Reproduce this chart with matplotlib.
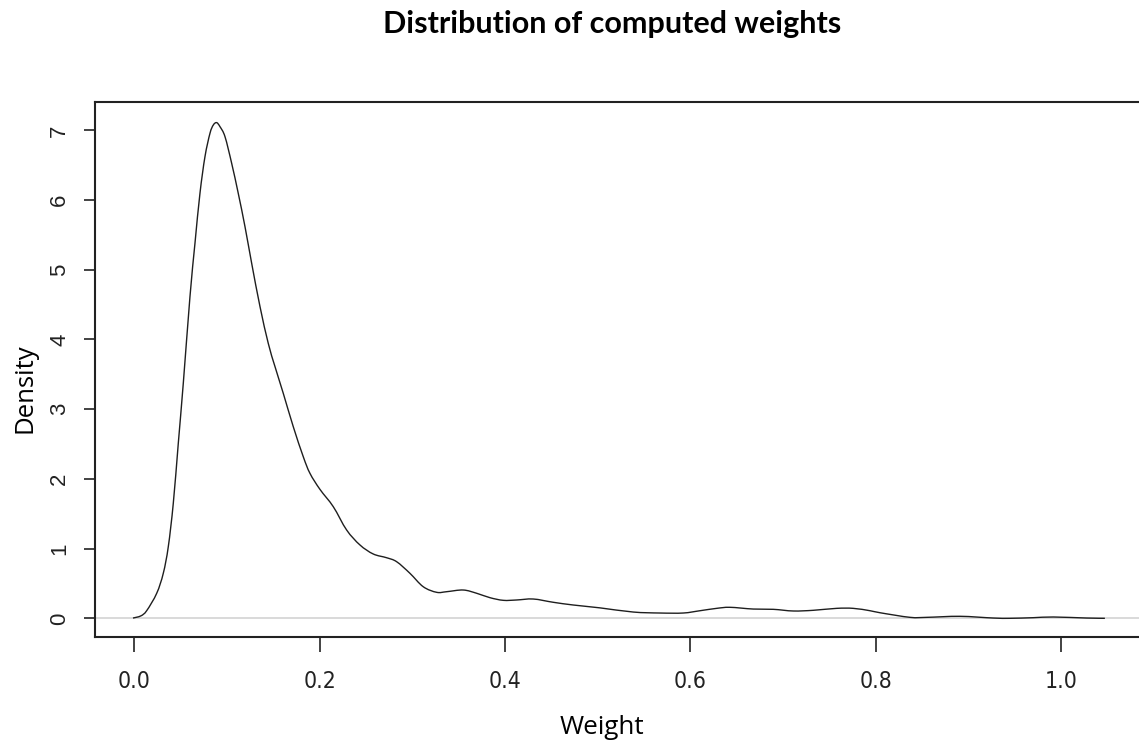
import matplotlib
matplotlib.use("Agg")
import matplotlib.pyplot as plt
import numpy as np
from matplotlib.path import Path
from matplotlib.patches import PathPatch

# Kernel density estimate of the computed weights (x = weight, y = density)
weight = [-0.0015, 0.0070, 0.0133, 0.0241, 0.0312, 0.0366, 0.0420, 0.0474, 0.0528,
          0.0600, 0.0654, 0.0708, 0.0762, 0.0816, 0.0852, 0.0888, 0.0924,
          0.0978, 0.1050, 0.1121, 0.1194, 0.1266, 0.1356, 0.1445, 0.1518, 0.1607,
          0.1715, 0.1823, 0.1895, 0.2003, 0.2147, 0.2291, 0.2435, 0.2578, 0.2723,
          0.2831, 0.2974, 0.3118, 0.3263, 0.3371, 0.3550, 0.3695, 0.3838, 0.3982,
          0.4126, 0.4305, 0.4521, 0.4737, 0.5025, 0.5385, 0.5673, 0.5924, 0.6105,
          0.6285, 0.6428, 0.6680, 0.6896, 0.7112, 0.7328, 0.7580, 0.7759, 0.7940,
          0.8048, 0.8372, 0.8552, 0.8911, 0.9271, 0.9451, 0.9702, 0.9918, 1.0278,
          1.0475]
density = [0.004, 0.035, 0.110, 0.359, 0.646, 1.027, 1.650, 2.511, 3.372,
           4.614, 5.380, 6.098, 6.623, 6.958, 7.077, 7.111, 7.053,
           6.910, 6.528, 6.098, 5.618, 5.093, 4.471, 3.945, 3.610, 3.228,
           2.749, 2.318, 2.080, 1.850, 1.601, 1.267, 1.052, 0.923, 0.869,
           0.812, 0.646, 0.453, 0.373, 0.382, 0.406, 0.359, 0.296, 0.258,
           0.263, 0.277, 0.230, 0.191, 0.150, 0.090, 0.076, 0.076, 0.109,
           0.143, 0.158, 0.133, 0.129, 0.105, 0.115, 0.143, 0.143, 0.109,
           0.080, 0.014, 0.014, 0.029, 0.004, 0.000, 0.009, 0.019, 0.004,
           0.000]

x_ticks = [0.0, 0.2, 0.4, 0.6, 0.8, 1.0]
x_tick_labels = ["0.0", "0.2", "0.4", "0.6", "0.8", "1.0"]
y_ticks = [0, 1, 2, 3, 4, 5, 6, 7]
y_tick_labels = ["0", "1", "2", "3", "4", "5", "6", "7"]


def smooth_path(xs, ys):
    """Catmull-Rom style Bezier path passing through every (x, y) point."""
    P = np.column_stack([xs, ys])
    verts = [P[0]]
    codes = [Path.MOVETO]
    n = len(P)
    for i in range(n - 1):
        p0 = P[i - 1] if i > 0 else P[i]
        p1, p2 = P[i], P[i + 1]
        p3 = P[i + 2] if i + 2 < n else P[i + 1]
        verts += [p1 + (p2 - p0) / 6.0, p2 - (p3 - p1) / 6.0, p2]
        codes += [Path.CURVE4] * 3
    return Path(verts, codes)


W, H = 1139, 742
fig = plt.figure(figsize=(W / 100, H / 100), dpi=100)
fig.patch.set_facecolor("white")

# plot region (right edge runs just past the canvas)
left, right, top, bottom = 95, 1145, 102, 637
ax = fig.add_axes([left / W, 1 - bottom / H, (right - left) / W, (bottom - top) / H])
ax.set_xlim(-0.0425, 1.0908)
ax.set_ylim(-0.268, 7.407)

ax.axhline(0, color="#d3d3d3", lw=1.2, zorder=1)
ax.add_patch(PathPatch(smooth_path(weight, density), facecolor="none",
                       edgecolor="#1e1e1e", lw=1.0, joinstyle="round", zorder=2))

for s in ax.spines.values():
    s.set_color("#222222")
    s.set_linewidth(1.5)

ax.set_xticks(x_ticks)
ax.set_xticklabels(x_tick_labels, family=["DejaVu Sans"], fontstretch="condensed",
                   fontsize=16.5, color="#222222")
ax.set_yticks(y_ticks)
ax.set_yticklabels(y_tick_labels, family=["Liberation Sans", "DejaVu Sans"],
                   fontsize=16, color="#222222", rotation=90, va="center")
ax.tick_params(axis="x", length=10.5, width=1.2, color="#222222", pad=13.5)
ax.tick_params(axis="y", length=8, width=1.2, color="#222222", pad=10)

fig.text(612 / W, 1 - 24 / H, "Distribution of computed weights",
         ha="center", va="center", fontsize=22, fontweight="bold",
         family=["Lato", "DejaVu Sans"], color="black")
fig.text(602 / W, 1 - 728 / H, "Weight", ha="center", va="center",
         fontsize=18.8, family=["Open Sans", "DejaVu Sans"], color="black")
fig.text(25 / W, 1 - 388 / H, "Density", ha="center", va="center", rotation=90,
         fontsize=18.5, family=["Open Sans", "DejaVu Sans"], color="black")

fig.savefig("out.png", dpi=100)
